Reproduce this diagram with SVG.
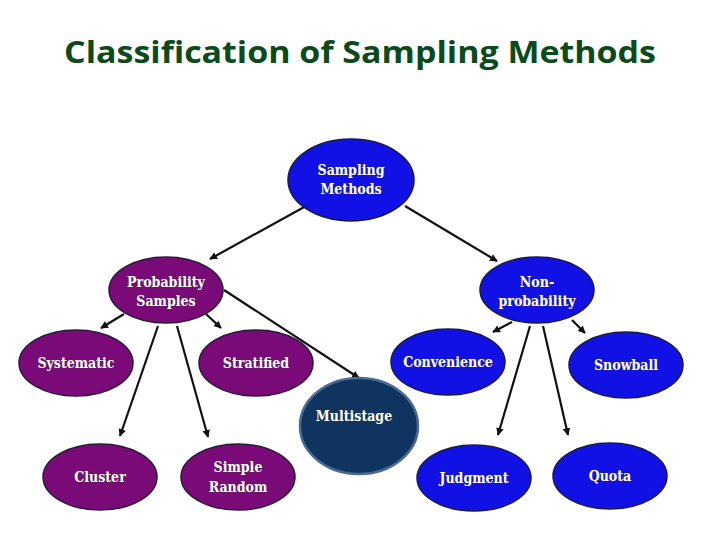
<svg xmlns="http://www.w3.org/2000/svg" width="720" height="540" viewBox="0 0 720 540">
<style>
.p{fill:#7a0a78;stroke:#2a1a3a;stroke-width:1.5}
.b{fill:#1111e6;stroke:#1a1a4a;stroke-width:1.5}
.t{font-family:"DejaVu Serif Condensed","Liberation Serif",serif;font-weight:bold;font-size:14px;fill:#fff;text-anchor:middle;stroke:#333;stroke-width:0.5;paint-order:stroke}
.c{stroke:#111;stroke-width:2.2;fill:none;marker-end:url(#a)}
</style>
<defs><marker id="a" viewBox="0 0 10 10" refX="9" refY="5" markerWidth="3.5" markerHeight="3.5" orient="auto"><path d="M0,0L10,5L0,10z" fill="#111"/></marker></defs>
<rect width="720" height="540" fill="#fff"/>
<text x="360" y="63" font-family="Open Sans,sans-serif" font-weight="bold" font-size="31" fill="#0b4a1a" text-anchor="middle" textLength="592" lengthAdjust="spacingAndGlyphs">Classification of Sampling Methods</text>
<g id="connectors">
<line class="c" x1="306" y1="206" x2="210" y2="259"/>
<line class="c" x1="405" y1="206" x2="497" y2="261"/>
<line class="c" x1="124" y1="314" x2="101" y2="328"/>
<line class="c" x1="206" y1="314" x2="221" y2="328"/>
<line class="c" x1="224" y1="290" x2="359" y2="378"/>
<line class="c" x1="158" y1="326" x2="120" y2="436"/>
<line class="c" x1="177" y1="326" x2="208" y2="437"/>
<line class="c" x1="512" y1="322" x2="493" y2="332"/>
<line class="c" x1="572" y1="320" x2="585" y2="333"/>
<line class="c" x1="530" y1="326" x2="498" y2="435"/>
<line class="c" x1="543" y1="326" x2="568" y2="435"/>
</g>
<g id="sm"><ellipse class="b" cx="351" cy="180" rx="63" ry="41"/><text class="t" x="351" y="175">Sampling</text><text class="t" x="351" y="194">Methods</text></g>
<g id="ps"><ellipse class="p" cx="166" cy="290" rx="57" ry="33"/><text class="t" x="166" y="287">Probability</text><text class="t" x="166" y="306">Samples</text></g>
<g id="np"><ellipse class="b" cx="537" cy="290" rx="57" ry="33"/><text class="t" x="537" y="287">Non-</text><text class="t" x="537" y="306">probability</text></g>
<g id="sys"><ellipse class="p" cx="76" cy="363" rx="57" ry="33"/><text class="t" x="76" y="368">Systematic</text></g>
<g id="str"><ellipse class="p" cx="256" cy="363" rx="57" ry="33"/><text class="t" x="256" y="368">Stratified</text></g>
<g id="con"><ellipse class="b" cx="448" cy="362" rx="57" ry="33"/><text class="t" x="448" y="367">Convenience</text></g>
<g id="snow"><ellipse class="b" cx="626" cy="365" rx="57" ry="33"/><text class="t" x="626" y="370">Snowball</text></g>
<g id="ms"><ellipse cx="359" cy="426" rx="59" ry="48" fill="#0f3460" stroke="#4a6a90" stroke-width="2.5"/><text class="t" x="354" y="421">Multistage</text></g>
<g id="cl"><ellipse class="p" cx="100" cy="477" rx="57" ry="33"/><text class="t" x="100" y="482">Cluster</text></g>
<g id="sr"><ellipse class="p" cx="238" cy="477" rx="57" ry="33"/><text class="t" x="238" y="472">Simple</text><text class="t" x="238" y="492">Random</text></g>
<g id="ju"><ellipse class="b" cx="474" cy="478" rx="57" ry="33"/><text class="t" x="474" y="483">Judgment</text></g>
<g id="qu"><ellipse class="b" cx="610" cy="476" rx="57" ry="33"/><text class="t" x="610" y="481">Quota</text></g>
</svg>
